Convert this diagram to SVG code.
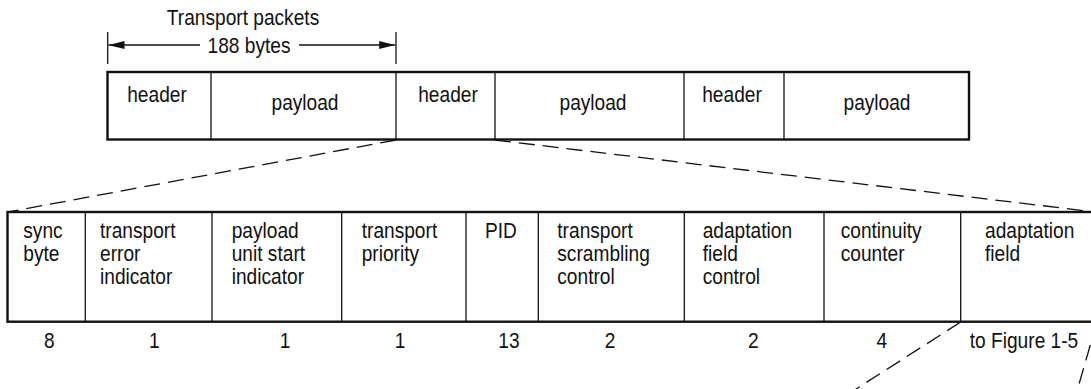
<svg xmlns="http://www.w3.org/2000/svg" width="1091" height="389" viewBox="0 0 1091 389">
<style>
  .t { font-family: "Liberation Sans", Arial, sans-serif; font-size: 22px; fill: #111; }
  .m { text-anchor: middle; }
  .outer { fill: #fff; stroke: #111; stroke-width: 2.4; }
  .div { stroke: #111; stroke-width: 1.3; fill: none; }
  .dash { stroke: #111; stroke-width: 1.3; fill: none; stroke-dasharray: 16 8; }
  .dim { stroke: #111; stroke-width: 1.3; fill: none; }
</style>
<defs>
  <marker id="ah" viewBox="0 0 16 8" refX="16" refY="4" markerWidth="16" markerHeight="8" markerUnits="userSpaceOnUse" orient="auto-start-reverse">
    <path d="M0,0 L16,4 L0,8 z" fill="#111"/>
  </marker>
</defs>
<rect width="1091" height="389" fill="#fff"/>

<g id="dimension">
  <line class="dim" x1="107.7" y1="32" x2="107.7" y2="64"/>
  <line class="dim" x1="396" y1="32" x2="396" y2="64"/>
  <line class="dim" x1="200" y1="45" x2="108.5" y2="45" marker-end="url(#ah)"/>
  <line class="dim" x1="299" y1="45" x2="395.2" y2="45" marker-end="url(#ah)"/>
  <text class="t m" transform="translate(243,25) scale(0.87,1)">Transport packets</text>
  <text class="t m" transform="translate(249,53) scale(0.87,1)">188 bytes</text>
</g>

<g id="transport-stream">
  <rect class="outer" x="107.5" y="72" width="861.5" height="67.5"/>
  <line class="div" x1="211" y1="72" x2="211" y2="139.5"/>
  <line class="div" x1="396" y1="72" x2="396" y2="139.5"/>
  <line class="div" x1="495" y1="72" x2="495" y2="139.5"/>
  <line class="div" x1="684" y1="72" x2="684" y2="139.5"/>
  <line class="div" x1="784" y1="72" x2="784" y2="139.5"/>
  <g id="header1"><text class="t m" transform="translate(157,102) scale(0.87,1)">header</text></g>
  <g id="payload1"><text class="t m" transform="translate(305,110) scale(0.87,1)">payload</text></g>
  <g id="header2"><text class="t m" transform="translate(448,102) scale(0.87,1)">header</text></g>
  <g id="payload2"><text class="t m" transform="translate(593,110) scale(0.87,1)">payload</text></g>
  <g id="header3"><text class="t m" transform="translate(732,102) scale(0.87,1)">header</text></g>
  <g id="payload3"><text class="t m" transform="translate(877,110) scale(0.87,1)">payload</text></g>
</g>

<g id="connectors">
  <line class="dash" x1="396" y1="140" x2="8" y2="212"/>
  <line class="dash" x1="495" y1="140" x2="1095" y2="212"/>
  <line class="dash" x1="960.7" y1="322" x2="853" y2="391"/>
  <line class="dash" x1="1097" y1="322" x2="1077" y2="391"/>
</g>

<g id="header-fields">
  <rect class="outer" x="7.5" y="212" width="1095" height="109.7"/>
  <line class="div" x1="85.3" y1="212" x2="85.3" y2="321.7"/>
  <line class="div" x1="212" y1="212" x2="212" y2="321.7"/>
  <line class="div" x1="341.7" y1="212" x2="341.7" y2="321.7"/>
  <line class="div" x1="466" y1="212" x2="466" y2="321.7"/>
  <line class="div" x1="538.3" y1="212" x2="538.3" y2="321.7"/>
  <line class="div" x1="684.3" y1="212" x2="684.3" y2="321.7"/>
  <line class="div" x1="824" y1="212" x2="824" y2="321.7"/>
  <line class="div" x1="960.7" y1="212" x2="960.7" y2="321.7"/>

  <g id="sync-byte">
    <text class="t" transform="translate(23.3,238) scale(0.87,1)"><tspan x="0" y="0">sync</tspan><tspan x="0" y="23">byte</tspan></text>
    <text class="t m" transform="translate(49.3,348) scale(0.87,1)">8</text>
  </g>
  <g id="transport-error-indicator">
    <text class="t" transform="translate(100,238) scale(0.87,1)"><tspan x="0" y="0">transport</tspan><tspan x="0" y="23">error</tspan><tspan x="0" y="46">indicator</tspan></text>
    <text class="t m" transform="translate(154.3,348) scale(0.87,1)">1</text>
  </g>
  <g id="payload-unit-start-indicator">
    <text class="t" transform="translate(231.7,238) scale(0.87,1)"><tspan x="0" y="0">payload</tspan><tspan x="0" y="23">unit start</tspan><tspan x="0" y="46">indicator</tspan></text>
    <text class="t m" transform="translate(285,348) scale(0.87,1)">1</text>
  </g>
  <g id="transport-priority">
    <text class="t" transform="translate(361.7,238) scale(0.87,1)"><tspan x="0" y="0">transport</tspan><tspan x="0" y="23">priority</tspan></text>
    <text class="t m" transform="translate(400,348) scale(0.87,1)">1</text>
  </g>
  <g id="pid">
    <text class="t" transform="translate(485,238) scale(0.87,1)">PID</text>
    <text class="t m" transform="translate(509,348) scale(0.87,1)">13</text>
  </g>
  <g id="transport-scrambling-control">
    <text class="t" transform="translate(557.3,238) scale(0.87,1)"><tspan x="0" y="0">transport</tspan><tspan x="0" y="23">scrambling</tspan><tspan x="0" y="46">control</tspan></text>
    <text class="t m" transform="translate(610,348) scale(0.87,1)">2</text>
  </g>
  <g id="adaptation-field-control">
    <text class="t" transform="translate(702.7,238) scale(0.87,1)"><tspan x="0" y="0">adaptation</tspan><tspan x="0" y="23">field</tspan><tspan x="0" y="46">control</tspan></text>
    <text class="t m" transform="translate(753.3,348) scale(0.87,1)">2</text>
  </g>
  <g id="continuity-counter">
    <text class="t" transform="translate(840.7,238) scale(0.87,1)"><tspan x="0" y="0">continuity</tspan><tspan x="0" y="23">counter</tspan></text>
    <text class="t m" transform="translate(881.7,348) scale(0.87,1)">4</text>
  </g>
  <g id="adaptation-field">
    <text class="t" transform="translate(985,238) scale(0.87,1)"><tspan x="0" y="0">adaptation</tspan><tspan x="0" y="23">field</tspan></text>
    <text class="t m" transform="translate(1024,348) scale(0.87,1)">to Figure 1-5</text>
  </g>
</g>
</svg>
